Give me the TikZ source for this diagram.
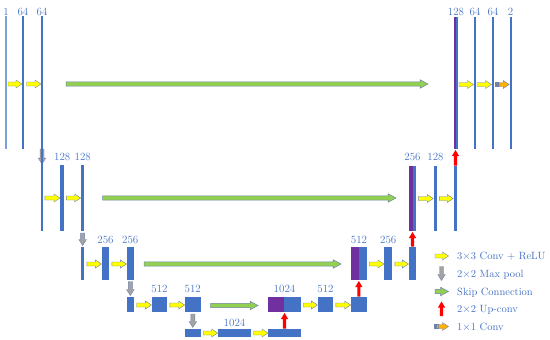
\documentclass[tikz,border=0pt]{standalone}
\usetikzlibrary{calc}
\definecolor{barblue}{HTML}{4472C4}
\definecolor{lightbar}{HTML}{7F9FDA}
\definecolor{purp}{HTML}{7030A0}
\definecolor{txtblue}{HTML}{4472C4}
\definecolor{yel}{HTML}{FFFF00}
\definecolor{grn}{HTML}{92D050}
\definecolor{gry}{HTML}{A3A3A3}
\definecolor{orng}{HTML}{FFB000}
\definecolor{edgeblue}{HTML}{6F82A8}
\definecolor{redc}{HTML}{FF0000}
\newcommand{\ubar}[6][bar]{\node[#1, minimum width={#5-#3}, minimum height={#6-#4}] (#2) at (#3,#4) {};}
\newcommand{\harrow}[6]{\path[#1] let \p1=(#2), \p2=(#3) in (\x1,\y1+#4pt) -- (\x2-#6pt,\y1+#4pt) -- (\x2-#6pt,\y1+#5pt) -- (\x2,\y1) -- (\x2-#6pt,\y1-#5pt) -- (\x2-#6pt,\y1-#4pt) -- (\x1,\y1-#4pt) -- cycle;}
\newcommand{\vdown}[6]{\path[#1] let \p1=(#2), \p2=(#3) in (\x1-#4pt,\y1) -- (\x1-#4pt,\y2+#6pt) -- (\x1-#5pt,\y2+#6pt) -- (\x1,\y2) -- (\x1+#5pt,\y2+#6pt) -- (\x1+#4pt,\y2+#6pt) -- (\x1+#4pt,\y1) -- cycle;}
\newcommand{\vup}[6]{\path[#1] let \p1=(#2), \p2=(#3) in (\x1-#4pt,\y1) -- (\x1-#4pt,\y2-#6pt) -- (\x1-#5pt,\y2-#6pt) -- (\x1,\y2) -- (\x1+#5pt,\y2-#6pt) -- (\x1+#4pt,\y2-#6pt) -- (\x1+#4pt,\y1) -- cycle;}
\newcommand{\yconv}[2]{\harrow{yarr}{#1}{#2}{2}{4}{6}}
\newcommand{\skipc}[2]{\harrow{garr}{#1}{#2}{2.2}{4.3}{8}}
\newcommand{\pooldn}[2]{\vdown{parr}{#1}{#2}{2}{3.8}{6}}
\newcommand{\upc}[2]{\vup{rarr}{#1}{#2}{1.6}{3.6}{6}}
\newcommand{\oneconv}[2]{%
  \path[oarr] let \p1=(#1) in (\x1,\y1+2pt) rectangle (\x1+1pt,\y1-2pt);
  \path[oarr] let \p1=(#1) in (\x1+2pt,\y1+2pt) rectangle (\x1+3.2pt,\y1-2pt);
  \harrow{oarr}{$(#1)+(4.2,0)$}{#2}{2}{4}{6}}
\begin{document}
\begin{tikzpicture}[x=1pt,y=-1pt,
  bar/.style={fill=barblue, draw=none, inner sep=0, outer sep=0, anchor=north west, rectangle},
  lbar/.style={bar, fill=lightbar},
  pbar/.style={bar, fill=purp},
  lbl/.style={text=txtblue, font=\fontsize{11}{13}\selectfont, inner sep=0},
  leg/.style={lbl, font=\fontsize{10.5}{12}\selectfont, anchor=base west},
  yarr/.style={fill=yel, draw=edgeblue, line width=0.4pt},
  garr/.style={fill=grn, draw=edgeblue, line width=0.5pt},
  parr/.style={fill=gry, draw=edgeblue, line width=0.4pt},
  rarr/.style={fill=redc, draw=none},
  oarr/.style={fill=orng, draw=edgeblue, line width=0.4pt}]
\useasboundingbox (0,0) rectangle (550,340);
% ---------- level 1 ----------
\ubar[lbar]{a1}{5}{16}{7}{149}
\ubar{a2}{22}{16}{24}{149}
\ubar{a3}{41}{16}{43}{149}
\ubar[pbar]{i1p}{454}{17}{456}{149}
\ubar{i1}{456}{17}{458}{149}
\ubar{i2}{474}{17}{476}{149}
\ubar{i3}{492}{17}{494}{149}
\ubar{i4}{509.5}{17}{511.5}{149}
\node[lbl] (la1) at (6,12) {1};
\node[lbl] (la2) at (23,12) {64};
\node[lbl] (la3) at (42,12) {64};
\node[lbl] (li1) at (456,12) {128};
\node[lbl] (li2) at (475,12) {64};
\node[lbl] (li3) at (493,12) {64};
\node[lbl] (li4) at (510.5,12) {2};
% ---------- level 2 ----------
\ubar{b2}{60.3}{165}{64.3}{231}
\ubar{b3}{81}{165}{84.3}{231}
\pooldn{a3.south}{$(a3.south |- b2.north)+(0,-1)$}
\ubar{b1}{41.3}{149}{42.8}{231}
\ubar[pbar]{h1p}{408.7}{166}{412.7}{231}
\ubar{h1}{412.7}{166}{416.3}{231}
\ubar{h2}{433.7}{166}{437.3}{231}
\ubar{h3}{453.7}{166}{457.3}{231}
\node[lbl] (lb2) at (62.3,157) {128};
\node[lbl] (lb3) at (82.8,157) {128};
\node[lbl] (lh1) at (412.5,157) {256};
\node[lbl] (lh2) at (435.5,157) {128};
% ---------- level 3 ----------
\ubar{c1}{80.7}{247}{84.3}{280}
\ubar{c2}{101.7}{247}{109.3}{280}
\ubar{c3}{126.7}{247}{134}{280}
\ubar[pbar]{g1p}{351}{247}{359}{280}
\ubar{g1}{359}{247}{366.7}{280}
\ubar{g2}{384.3}{247}{392.3}{280}
\ubar{g3}{408.7}{247}{416.3}{280}
\node[lbl] (lc2) at (105.5,240) {256};
\node[lbl] (lc3) at (130.3,240) {256};
\node[lbl] (lg1) at (359,240) {512};
\node[lbl] (lg2) at (388.3,240) {256};
% ---------- level 4 ----------
\ubar{d1}{126.7}{297}{134}{312}
\ubar{d2}{151.7}{297}{167.3}{312}
\ubar{d3}{185}{297}{200.7}{312}
\ubar[pbar]{f1p}{268.3}{297}{284}{312}
\ubar{f1}{284}{297}{300.7}{312}
\ubar{f2}{317.7}{297}{333.3}{312}
\ubar{f3}{351}{297}{366.7}{312}
\node[lbl] (ld2) at (159.5,289) {512};
\node[lbl] (ld3) at (192.8,289) {512};
\node[lbl] (lf1) at (284.5,289) {1024};
\node[lbl] (lf2) at (325.5,289) {512};
% ---------- level 5 ----------
\ubar{e1}{185}{329}{200.7}{337}
\ubar{e2}{218}{329}{251}{337}
\ubar{e3}{268.3}{329}{300.7}{337}
\node[lbl] (le2) at (234.5,322.5) {1024};
% ---------- conv arrows ----------
\yconv{$(a1.east)+(1,1.5)$}{$(a2.west)+(0,1.5)$}
\yconv{$(a2.east)+(2.5,1.5)$}{$(a3.west)+(0,1.5)$}
\yconv{$(i1.east)+(1,1.5)$}{$(i2.west)+(-0.5,1.5)$}
\yconv{$(i2.east)+(1,1.5)$}{$(i3.west)+(-0.5,1.5)$}
\oneconv{$(i3.east)+(1,1.5)$}{$(i4.west)+(-0.3,1.5)$}
\yconv{$(b1.east |- b2.west)+(2,0)$}{$(b2.west)+(-0.3,0)$}
\yconv{$(b2.east)+(2,0)$}{$(b3.west)+(-0.3,0)$}
\yconv{$(h1.east)+(2,0)$}{$(h2.west)+(-0.5,0)$}
\yconv{$(h2.east)+(2,0)$}{$(h3.west)+(-0.5,0)$}
\yconv{$(c1.east)+(2.5,0.5)$}{$(c2.west)+(-0.3,0.5)$}
\yconv{$(c2.east)+(2.5,0.5)$}{$(c3.west)+(-0.3,0.5)$}
\yconv{$(g1.east)+(2.5,0.5)$}{$(g2.west)+(-0.3,0.5)$}
\yconv{$(g2.east)+(2.5,0.5)$}{$(g3.west)+(-0.3,0.5)$}
\yconv{$(d1.east)+(2.5,0.5)$}{$(d2.west)+(-0.3,0.5)$}
\yconv{$(d2.east)+(2.5,0.5)$}{$(d3.west)+(-0.3,0.5)$}
\yconv{$(f1.east)+(2.5,0.5)$}{$(f2.west)+(-0.3,0.5)$}
\yconv{$(f2.east)+(2.5,0.5)$}{$(f3.west)+(-0.3,0.5)$}
\yconv{$(e1.east)+(2.5,0)$}{$(e2.west)+(-0.3,0)$}
\yconv{$(e2.east)+(2.5,0)$}{$(e3.west)+(-0.3,0)$}
% ---------- skip connections ----------
\coordinate (s1a) at (66,84);   \coordinate (s1b) at (428,84);
\coordinate (s2a) at (102.5,198); \coordinate (s2b) at (396,198);
\coordinate (s3a) at (144,264); \coordinate (s3b) at (341,264);
\coordinate (s4a) at (210.7,305.5); \coordinate (s4b) at (258,305.5);
\skipc{s1a}{s1b}
\skipc{s2a}{s2b}
\skipc{s3a}{s3b}
\skipc{s4a}{s4b}
% ---------- pooling ----------
\pooldn{$(b3.south)+(0,2)$}{$(b3.south |- c1.north)+(0,-1.5)$}
\pooldn{$(c3.south)+(0,1.5)$}{$(c3.south |- d1.north)+(0,-1.5)$}
\pooldn{$(d3.south)+(0,2)$}{$(d3.south |- e1.north)+(0,-1.5)$}
% ---------- up-conv ----------
\upc{$(e3.north)+(0,-0.5)$}{$(e3.north |- f1.south)+(0,1)$}
\upc{$(f3.north)+(0,-0.5)$}{$(f3.north |- g1.south)+(0,1)$}
\upc{$(g3.north)+(0,-0.5)$}{$(g3.north |- h1.south)+(0,1)$}
\upc{$(h3.north)+(0,-0.5)$}{$(h3.north |- i1.south)+(0,1)$}
% ---------- legend ----------
\coordinate (k1a) at (435,256); \coordinate (k1b) at (448.5,256);
\coordinate (k2a) at (441.5,266.5); \coordinate (k2b) at (441.5,280.5);
\coordinate (k3a) at (435,291.5); \coordinate (k3b) at (448.5,291.5);
\coordinate (k4a) at (441.5,316); \coordinate (k4b) at (441.5,301.5);
\coordinate (k5a) at (434.5,326.5); \coordinate (k5b) at (448.5,326.5);
\yconv{k1a}{k1b}
\pooldn{k2a}{k2b}
\skipc{k3a}{k3b}
\upc{k4a}{k4b}
\oneconv{k5a}{k5b}
\node[leg] (t1) at (457,259.5) {3$\times$3 Conv + ReLU};
\node[leg] (t2) at (457,277) {2$\times$2 Max pool};
\node[leg] (t3) at (457,295) {Skip Connection};
\node[leg] (t4) at (457,312.5) {2$\times$2 Up-conv};
\node[leg] (t5) at (457,330) {1$\times$1 Conv};
\end{tikzpicture}
\end{document}
